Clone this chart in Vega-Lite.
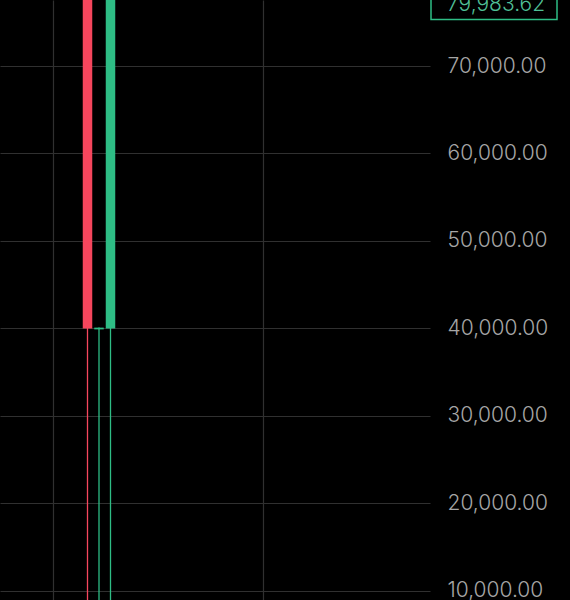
{
  "$schema": "https://vega.github.io/schema/vega-lite/v6.json",
  "autosize": "none",
  "width": 430,
  "height": 600,
  "padding": {"left": 0, "top": 0, "right": 140, "bottom": 0},
  "background": "#000000",
  "config": {
    "view": {"stroke": null},
    "font": "Inter"
  },
  "datasets": {
    "candles": [
      {"idx": 0, "open": 79200, "high": 80800, "low": 5000, "close": 40000},
      {"idx": 1, "open": 39900, "high": 40100, "low": 4800, "close": 40100},
      {"idx": 2, "open": 40000, "high": 81000, "low": 5200, "close": 79983.62}
    ],
    "last": [
      {"idx": 2, "close": 79983.62}
    ]
  },
  "layer": [
    {
      "data": {"name": "candles"},
      "mark": {"type": "rule", "strokeWidth": 1.3},
      "encoding": {
        "x": {
          "field": "idx", "type": "quantitative",
          "scale": {"domain": [-7.609, 29.783], "nice": false, "zero": false, "padding": 0},
          "axis": {
            "values": [-3, 15.26], "labels": false, "ticks": false, "domain": false,
            "title": null, "grid": true, "gridColor": "#303030", "gridWidth": 1.2
          }
        },
        "y": {
          "field": "low", "type": "quantitative",
          "scale": {"domain": [8971, 77543], "nice": false, "zero": false, "clamp": true, "padding": 0},
          "axis": {
            "orient": "right",
            "values": [10000, 20000, 30000, 40000, 50000, 60000, 70000],
            "format": ",.2f",
            "title": null, "domain": false, "ticks": false, "tickSize": 0,
            "labelPadding": 17, "labelFontSize": 21, "labelColor": "#a6a6a6",
            "labelFont": "Inter", "labelFontWeight": 300,
            "grid": true, "gridColor": "#303030", "gridWidth": 1.2
          }
        },
        "y2": {"field": "high"},
        "color": {
          "condition": {"test": "datum.close >= datum.open", "value": "#2ebd85"},
          "value": "#f6465d"
        }
      }
    },
    {
      "data": {"name": "candles"},
      "mark": {"type": "bar", "size": 9.5},
      "encoding": {
        "x": {"field": "idx", "type": "quantitative"},
        "y": {"field": "open", "type": "quantitative"},
        "y2": {"field": "close"},
        "color": {
          "condition": {"test": "datum.close >= datum.open", "value": "#2ebd85"},
          "value": "#f6465d"
        }
      }
    },
    {
      "data": {"name": "last"},
      "mark": {
        "type": "point",
        "shape": "M-1,-0.2222L1,-0.2222L1,0.2222L-1,0.2222Z",
        "filled": false,
        "size": 15876,
        "stroke": "#2ebd85",
        "strokeWidth": 1.5,
        "opacity": 1
      },
      "encoding": {
        "x": {"value": "width"},
        "xOffset": {"value": 64},
        "y": {"field": "close", "type": "quantitative"},
        "yOffset": {"value": 5.5}
      }
    },
    {
      "data": {"name": "last"},
      "mark": {
        "type": "text",
        "align": "left",
        "baseline": "middle",
        "dx": 17,
        "dy": 5,
        "fontSize": 21,
        "font": "Inter",
        "fontWeight": 300,
        "color": "#4fbf95"
      },
      "encoding": {
        "x": {"value": "width"},
        "y": {"field": "close", "type": "quantitative"},
        "text": {"field": "close", "type": "quantitative", "format": ",.2f"}
      }
    }
  ]
}
